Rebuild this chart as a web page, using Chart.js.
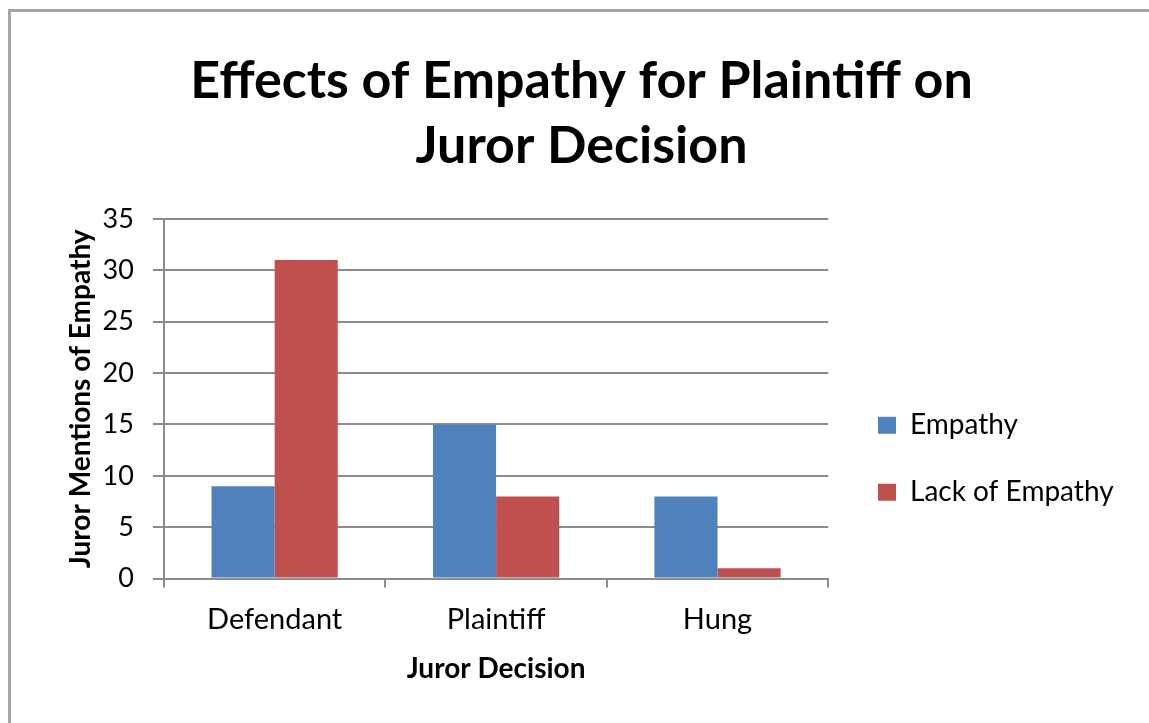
<!DOCTYPE html>
<html lang="en">
<head>
  <meta charset="UTF-8">
  <title>Effects of Empathy for Plaintiff on Juror Decision</title>
  <script src="https://cdn.jsdelivr.net/npm/chart.js"></script>
  <style>
    body {
      margin: 0;
      background: white;
      overflow: hidden;
    }
    .frame {
      position: absolute;
      left: 8px;
      top: 9px;
      width: 1200px;
      height: 800px;
      border: 3px solid #a6a6a6;
    }
    #chartWrap {
      position: absolute;
      left: 0;
      top: 0;
      width: 1149px;
      height: 723px;
    }
  </style>
</head>
<body>
  <div class="frame"></div>
  <div id="chartWrap"><canvas id="empathyChart"></canvas></div>

  <script>
    // data
    const categories = ['Defendant', 'Plaintiff', 'Hung'];
    const empathy = [9, 15, 8];
    const lackOfEmpathy = [31, 8, 1];
    const seriesNames = ['Empathy', 'Lack of Empathy'];
    const titleLines = ['Effects of Empathy for Plaintiff on', 'Juror Decision'];

    const fontFamily = "Lato, 'Open Sans', sans-serif";
    const gridGray = '#8c8c8c';

    // nudge the legend and title like the original layout
    const legendSpot = {
      id: 'legendSpot',
      afterLayout(chart) {
        const lg = chart.legend;
        const area = chart.chartArea;
        const pad = lg.options.labels.padding;
        lg.left = 878 - pad;
        lg.right = chart.width;
        lg.top = area.top + 60;
        lg.bottom = area.bottom + 60;

        const tb = chart.titleBlock;
        tb.left += 8;
        tb.right += 8;
      }
    };

    const config = {
      type: 'bar',
      data: {
        labels: categories,
        datasets: [{
          label: seriesNames[0],
          data: empathy,
          backgroundColor: '#4f81bd',
          borderWidth: 0,
          categoryPercentage: 0.57,
          barPercentage: 1.0
        }, {
          label: seriesNames[1],
          data: lackOfEmpathy,
          backgroundColor: '#c0504d',
          borderWidth: 0,
          categoryPercentage: 0.57,
          barPercentage: 1.0
        }]
      },
      options: {
        responsive: true,
        maintainAspectRatio: false,
        animation: false,
        layout: {
          padding: { left: 64, right: 66, top: 49, bottom: 37 }
        },
        plugins: {
          title: {
            display: true,
            text: titleLines,
            color: '#000',
            font: { family: fontFamily, size: 52, weight: 'bold', lineHeight: 1.25 },
            padding: { top: 0, bottom: 40 }
          },
          legend: {
            position: 'right',
            labels: {
              color: '#000',
              font: { family: fontFamily, size: 28 },
              boxWidth: 18,
              boxHeight: 17,
              padding: 39
            }
          },
          tooltip: { enabled: false }
        },
        scales: {
          x: {
            grid: {
              display: true,
              drawOnChartArea: false,
              drawTicks: true,
              tickLength: 9,
              color: gridGray,
              lineWidth: 2,
              offset: true
            },
            border: { color: gridGray, width: 2 },
            ticks: {
              color: '#000',
              font: { family: fontFamily, size: 29 },
              padding: 15
            },
            title: {
              display: true,
              text: 'Juror Decision',
              color: '#000',
              font: { family: fontFamily, size: 28, weight: 'bold' },
              padding: { top: 0, bottom: 0 }
            }
          },
          y: {
            min: 0,
            max: 35,
            ticks: {
              stepSize: 5,
              color: '#000',
              font: { family: fontFamily, size: 27 },
              padding: 19
            },
            grid: {
              color: gridGray,
              lineWidth: 2,
              tickLength: 11
            },
            border: { color: gridGray, width: 2 },
            title: {
              display: true,
              text: 'Juror Mentions of Empathy',
              color: '#000',
              font: { family: fontFamily, size: 28, weight: 'bold' },
              padding: { top: 0, bottom: -14 }
            }
          }
        }
      },
      plugins: [legendSpot]
    };

    new Chart(document.getElementById('empathyChart'), config);
  </script>
</body>
</html>
